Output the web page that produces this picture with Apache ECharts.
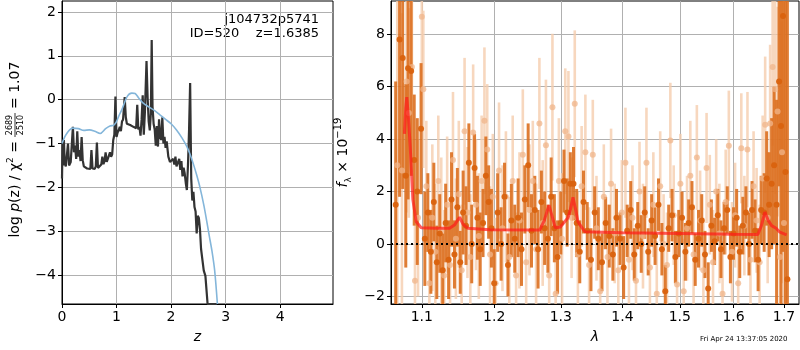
<!DOCTYPE html>
<html>
<head>
<meta charset="utf-8">
<script src="https://cdn.jsdelivr.net/npm/echarts@6/dist/echarts.min.js"></script>
<style>
  html, body { margin: 0; padding: 0; background: #fff; }
  #chart { width: 800px; height: 350px; }
</style>
</head>
<body>
<div id="chart"></div>
<script>
// p(z) panel: [z, log p(z)]
const pzLine = [
  [0.00, -1.80], [0.01, -1.00], [0.02, -1.50], [0.035, -0.92], [0.05, -1.45], [0.07, -1.52], [0.09, -1.48],
  [0.11, -1.00], [0.13, -1.50], [0.16, -1.42], [0.18, -1.40], [0.20, -0.62], [0.22, -1.20], [0.24, -1.05],
  [0.26, -1.35], [0.28, -0.72], [0.30, -1.30], [0.32, -1.15], [0.34, -1.40], [0.36, -0.85], [0.38, -1.38],
  [0.40, -1.52], [0.43, -1.55], [0.46, -1.57], [0.49, -1.55], [0.52, -1.58], [0.54, -1.15], [0.56, -1.57],
  [0.58, -1.55], [0.60, -1.58], [0.62, -1.52], [0.64, -0.98], [0.66, -1.56], [0.69, -1.52], [0.72, -1.48],
  [0.74, -1.30], [0.76, -1.47], [0.78, -1.40], [0.80, -1.20], [0.82, -1.42], [0.84, -1.35], [0.86, -1.38],
  [0.88, -1.20], [0.90, -1.30], [0.92, -1.25], [0.94, -0.92], [0.96, -0.80], [0.98, 0.07], [1.00, -0.85],
  [1.02, -0.75], [1.04, -0.70], [1.06, -0.62], [1.08, -0.72], [1.10, -0.50], [1.12, -0.45], [1.15, 0.06],
  [1.17, -0.40], [1.19, -0.55], [1.22, -0.52], [1.25, -0.58], [1.28, -0.55], [1.31, -0.62], [1.34, -0.58],
  [1.36, -0.65], [1.38, -0.12], [1.40, -0.68], [1.42, -0.62], [1.44, -0.82], [1.46, -0.45], [1.48, 0.10],
  [1.50, -0.80], [1.52, -0.30], [1.55, 0.88], [1.57, 0.05], [1.59, -0.50], [1.61, -0.70], [1.63, -0.30],
  [1.645, 1.36], [1.66, -0.15], [1.68, -0.55], [1.70, -0.68], [1.72, -1.05], [1.74, -0.60], [1.76, -1.07],
  [1.78, -0.45], [1.80, -0.85], [1.82, -0.92], [1.84, -0.40], [1.86, -1.00], [1.88, -0.85], [1.90, -1.10],
  [1.92, -0.95], [1.95, -1.30], [1.98, -1.42], [2.01, -1.45], [2.04, -1.35], [2.06, -1.48], [2.08, -1.30],
  [2.10, -1.52], [2.13, -1.55], [2.15, -1.35], [2.17, -1.60], [2.19, -1.40], [2.21, -1.75], [2.23, -1.55],
  [2.25, -1.68], [2.27, -1.90], [2.29, -2.06], [2.31, -1.50], [2.33, -0.70], [2.35, 0.38], [2.37, -1.80],
  [2.39, -2.30], [2.41, -2.10], [2.43, -2.45], [2.45, -2.55], [2.47, -3.05], [2.49, -2.65], [2.51, -2.70],
  [2.53, -2.95], [2.55, -3.40], [2.57, -3.60], [2.60, -3.90], [2.63, -4.02], [2.67, -4.66], [2.84, -4.66]
];
const pzTemplate = [
  [0.00, -1.00], [0.05, -0.85], [0.10, -0.75], [0.15, -0.68], [0.20, -0.65], [0.30, -0.66], [0.40, -0.70],
  [0.50, -0.69], [0.60, -0.72], [0.70, -0.77], [0.80, -0.66], [0.88, -0.60], [0.95, -0.58], [1.00, -0.50],
  [1.05, -0.35], [1.10, -0.22], [1.20, 0.08], [1.28, 0.15], [1.34, 0.14], [1.40, 0.05], [1.49, -0.08],
  [1.60, -0.17], [1.70, -0.25], [1.80, -0.35], [1.90, -0.45], [2.00, -0.55], [2.10, -0.69], [2.20, -0.87],
  [2.29, -1.07], [2.35, -1.25], [2.41, -1.47], [2.47, -1.72], [2.53, -2.00], [2.60, -2.40], [2.65, -2.74],
  [2.70, -3.10], [2.75, -3.45], [2.80, -3.90], [2.85, -4.66]
];
const zTicks = [0, 1, 2, 3, 4];
const pzTicks = [-4, -3, -2, -1, 0, 1, 2];

// spectrum panel: [lambda, flux, err]
const specDark = [
  [1.066, 1.5, 4.7], [1.071, 7.8, 6], [1.075, 7.1, 5], [1.079, 2.6, 3.5], [1.082, 6.7, 5], [1.086, 6.6, 4],
  [1.090, 3.2, 2.5], [1.094, 2.0, 2.8], [1.099, 4.4, 2.5], [1.104, 0.2, 1.8], [1.108, 1.2, 1.5], [1.112, -0.3, 1.6],
  [1.116, 1.6, 1.5], [1.120, -0.7, 1.4], [1.124, 0.4, 1.5], [1.128, -1.0, 1.4], [1.132, 0.8, 1.5], [1.136, -0.6, 1.5],
  [1.140, 1.7, 1.8], [1.144, -0.4, 1.3], [1.148, 1.4, 1.5], [1.152, -0.7, 1.2], [1.156, 1.2, 1.6], [1.160, 0.7, 1.5],
  [1.164, 3.1, 1.5], [1.168, 0.0, 1.5], [1.172, 2.9, 1.3], [1.176, 1.0, 1.6], [1.180, -0.2, 1.4], [1.184, 0.8, 1.3],
  [1.188, 2.6, 1.5], [1.192, 1.6, 1.4], [1.196, 0.6, 1.5], [1.200, -1.5, 1.3], [1.205, 1.2, 1.5], [1.210, 0.0, 1.4],
  [1.215, 1.8, 1.3], [1.220, -0.8, 1.2], [1.225, 0.9, 1.4], [1.230, 0.2, 1.3], [1.235, 1.0, 1.5], [1.240, -0.2, 1.4],
  [1.245, 1.7, 1.3], [1.250, 3.0, 1.6], [1.255, 0.5, 1.4], [1.260, 1.3, 1.3], [1.265, -0.2, 1.5], [1.270, 1.6, 1.2],
  [1.275, 0.6, 1.4], [1.280, 0.2, 1.3], [1.285, 1.8, 1.5], [1.290, 0.6, 1.3], [1.295, -0.5, 1.4], [1.300, 0.8, 1.2],
  [1.305, 2.4, 1.2], [1.310, 1.2, 1.3], [1.315, 2.3, 1.2], [1.320, 2.3, 1.4], [1.325, 0.8, 1.3], [1.330, -0.3, 1.2],
  [1.336, 1.6, 1.2], [1.342, 0.5, 1.1], [1.348, -0.6, 1.2], [1.354, 1.2, 1.0], [1.360, 0.2, 1.2], [1.366, -0.7, 1.1],
  [1.372, 0.8, 1.0], [1.378, 0.3, 1.2], [1.384, -0.4, 1.0], [1.390, 1.0, 1.1], [1.396, 0.2, 1.0], [1.402, -0.9, 1.2],
  [1.408, 0.5, 1.0], [1.414, 1.3, 1.1], [1.420, -0.4, 1.0], [1.426, 0.7, 0.9], [1.432, 0.0, 1.1], [1.438, 1.2, 1.0],
  [1.444, -0.3, 0.9], [1.450, 0.9, 1.0], [1.456, 0.3, 1.1], [1.462, 1.5, 1.0], [1.468, -0.2, 1.0], [1.474, -1.8, 1.0],
  [1.480, 0.6, 0.9], [1.486, 1.1, 1.0], [1.492, -0.5, 1.0], [1.498, 0.4, 0.9], [1.504, 1.0, 1.0], [1.510, -0.3, 1.1],
  [1.516, 0.8, 0.9], [1.522, 1.4, 1.0], [1.528, -0.6, 1.0], [1.534, 0.2, 1.1], [1.540, 0.9, 1.0], [1.546, -0.4, 0.9],
  [1.552, -1.7, 1.0], [1.558, 0.7, 1.0], [1.564, 0.1, 0.9], [1.570, 1.1, 1.0], [1.576, -0.2, 1.1], [1.582, 0.6, 1.0],
  [1.588, 1.3, 0.9], [1.594, -0.5, 1.0], [1.600, 0.4, 1.0], [1.606, 1.0, 1.1], [1.612, -0.3, 1.0], [1.618, 0.7, 1.1],
  [1.624, 1.2, 1.0], [1.630, 0.0, 1.2], [1.636, 1.3, 1.1], [1.642, 0.5, 1.2], [1.648, -0.6, 1.2], [1.654, 1.3, 1.3],
  [1.660, 1.2, 1.5], [1.665, 2.5, 1.8], [1.670, 1.5, 2.0], [1.675, 2.3, 2.5], [1.680, 3.0, 3.0], [1.685, 1.5, 4.0],
  [1.690, 6.2, 4.0], [1.694, 4.5, 8], [1.698, 8.7, 9], [1.703, 2.75, 9], [1.707, -1.35, 12]
];
const specLight = [
  [1.068, 3.0, 8], [1.074, 2.8, 6], [1.080, 6.2, 5], [1.083, 5.0, 4], [1.087, 6.75, 4], [1.091, -1.4, 3.5],
  [1.095, 1.0, 3], [1.100, 8.67, 3], [1.102, 5.9, 3], [1.106, 2.2, 2.5], [1.110, -1.5, 2.5], [1.114, 1.0, 2.8],
  [1.118, -0.3, 2.6], [1.122, 2.4, 2.5], [1.126, 0.5, 2.8], [1.130, -1.2, 2.5], [1.134, 1.5, 2.6], [1.138, -0.8, 2.4],
  [1.142, 3.2, 2.6], [1.146, 0.2, 2.3], [1.150, 1.9, 2.8], [1.154, -1.0, 2.5], [1.158, 4.3, 2.8], [1.162, 1.2, 2.5],
  [1.166, -0.5, 2.4], [1.170, 4.25, 2.6], [1.174, 1.5, 2.5], [1.178, 0.3, 2.4], [1.182, 2.4, 2.5], [1.186, 4.7, 2.8],
  [1.190, 3.6, 2.5], [1.194, -0.4, 2.6], [1.198, 1.8, 2.4], [1.202, -1.5, 2.5], [1.207, 2.8, 2.6], [1.212, 0.6, 2.4],
  [1.217, 1.8, 2.5], [1.222, -0.5, 2.3], [1.227, 2.4, 2.5], [1.232, -1.2, 2.4], [1.237, 0.9, 2.6], [1.242, 3.4, 2.5],
  [1.247, -0.7, 2.4], [1.252, 1.3, 2.5], [1.257, 2.4, 2.3], [1.262, -0.2, 2.5], [1.267, 4.6, 2.5], [1.272, 0.8, 2.4],
  [1.277, 3.77, 2.5], [1.282, -1.2, 2.6], [1.287, 5.22, 2.8], [1.292, -1.9, 2.5], [1.297, 2.4, 2.4], [1.302, 0.2, 2.5],
  [1.307, 4.3, 2.4], [1.312, 4.1, 2.5], [1.317, 1.0, 2.3], [1.322, 5.35, 2.8], [1.327, -0.4, 2.4], [1.333, 2.2, 2.3],
  [1.339, 3.5, 2.2], [1.345, -0.8, 2.2], [1.351, 3.4, 2.1], [1.357, 0.6, 2.0], [1.363, -1.8, 2.1], [1.369, 1.8, 2.0],
  [1.375, -0.5, 2.0], [1.381, 2.3, 2.1], [1.387, 0.4, 1.9], [1.393, -1.0, 2.0], [1.399, 1.2, 2.0], [1.405, 3.1, 2.1],
  [1.411, -0.6, 1.9], [1.417, 1.0, 2.0], [1.423, -1.4, 2.1], [1.429, 2.0, 1.9], [1.435, 0.3, 2.0], [1.441, 3.1, 2.1],
  [1.447, -0.9, 1.9], [1.453, 1.5, 2.0], [1.459, -1.9, 2.0], [1.465, 2.2, 2.1], [1.471, 0.0, 1.9], [1.477, -0.8, 2.0],
  [1.483, 3.95, 2.2], [1.489, 1.1, 1.9], [1.495, -1.55, 2.0], [1.501, 2.3, 1.9], [1.507, -1.8, 2.0], [1.513, 0.6, 2.0],
  [1.519, 2.6, 2.1], [1.525, -0.4, 1.9], [1.531, 3.3, 2.0], [1.537, 0.9, 1.9], [1.543, -1.0, 2.0], [1.549, 2.9, 2.1],
  [1.555, 1.5, 1.9], [1.561, -0.7, 2.0], [1.567, 2.0, 2.0], [1.573, 0.4, 1.9], [1.579, -1.9, 2.0], [1.585, 1.6, 2.0],
  [1.591, 3.75, 2.1], [1.597, -0.3, 1.9], [1.603, 1.1, 2.0], [1.609, -1.5, 2.0], [1.615, 3.65, 2.1], [1.621, 0.7, 1.9],
  [1.627, 3.6, 2.2], [1.633, -0.6, 2.0], [1.639, 2.2, 2.1], [1.645, 0.9, 2.0], [1.651, -0.7, 2.2], [1.657, 2.5, 2.4],
  [1.662, 4.55, 2.6], [1.667, 1.0, 2.5], [1.672, 4.6, 3], [1.677, 6.75, 3], [1.682, 5.9, 4], [1.687, 5.05, 4],
  [1.692, -0.5, 4], [1.696, 3.5, 5], [1.700, 0.8, 9]
];
const specModel = [
  [1.0773, 4.2], [1.0790, 5.2], [1.0803, 5.6], [1.0825, 4.8], [1.0848, 3.7], [1.0882, 1.7], [1.0926, 0.85],
  [1.0992, 0.62], [1.12, 0.6], [1.1373, 0.6], [1.1440, 0.72], [1.1511, 1.02], [1.1560, 0.75], [1.1626, 0.6],
  [1.1934, 0.54], [1.2674, 0.53], [1.2745, 0.9], [1.2816, 1.48], [1.2860, 1.1], [1.2915, 0.62], [1.2993, 0.65],
  [1.3060, 0.85], [1.3113, 1.0], [1.3150, 1.3], [1.3192, 1.78], [1.3235, 1.3], [1.3272, 0.84], [1.3379, 0.47],
  [1.40, 0.43], [1.50, 0.40], [1.60, 0.37], [1.6475, 0.36], [1.6545, 0.7], [1.6614, 1.22], [1.6680, 0.9],
  [1.6749, 0.7], [1.6776, 0.74], [1.6840, 0.6], [1.6917, 0.45], [1.7054, 0.35]
];
const lamTicks = [1.1, 1.2, 1.3, 1.4, 1.5, 1.6, 1.7];
const fluxTicks = [-2, 0, 2, 4, 6, 8];

const FONT = 'DejaVu Sans';
const fluxMin = -2.29, fluxMax = 9.27;
const minus = v => String(v).replace('-', '\u2212');

// error bars drawn through the axes' coordinate system
function errorBars(color, opacity, width) {
  return function (params, api) {
    const lam = api.value(0);
    const lo = Math.max(api.value(1), fluxMin);
    const hi = Math.min(api.value(2), fluxMax);
    const p1 = api.coord([lam, lo]);
    const p2 = api.coord([lam, hi]);
    return {
      type: 'line',
      shape: { x1: p1[0], y1: p1[1], x2: p2[0], y2: p2[1] },
      style: { stroke: color, lineWidth: width, opacity: opacity }
    };
  };
}
const toBars = arr => arr.map(d => [d[0], d[1] - d[2], d[1] + d[2]]);
const toPts = arr => arr.map(d => [d[0], d[1]]);

const axisCommon = {
  axisLine: { show: true, onZero: false, lineStyle: { color: '#000', width: 1 } },
  axisTick: { show: true, inside: false, length: 4, lineStyle: { color: '#000' } },
  splitLine: { show: true, lineStyle: { color: '#b0b0b0', width: 1 } },
  nameTextStyle: { fontFamily: FONT, fontSize: 14, color: '#000' }
};
function valueAxis(extra, ticks, fmt) {
  return Object.assign({}, axisCommon, {
    axisTick: Object.assign({}, axisCommon.axisTick, { customValues: ticks }),
    axisLabel: { customValues: ticks, formatter: fmt, fontFamily: FONT, fontSize: 14, color: '#000', margin: 6 }
  }, extra);
}

const chart = echarts.init(document.getElementById('chart'));
chart.setOption({
  animation: false,
  backgroundColor: '#fff',
  grid: [
    { left: 62, top: 1, width: 271, height: 303, show: true, borderColor: '#000', borderWidth: 1, backgroundColor: 'transparent' },
    { left: 391, top: 1, width: 408, height: 303, show: true, borderColor: '#000', borderWidth: 1, backgroundColor: 'transparent' }
  ],
  xAxis: [
    valueAxis({ type: 'value', gridIndex: 0, min: 0, max: 4.97, name: 'z', nameLocation: 'middle', nameGap: 26,
      nameTextStyle: { fontFamily: FONT, fontSize: 14, fontStyle: 'italic', color: '#000' } }, zTicks, v => String(v)),
    valueAxis({ type: 'log', gridIndex: 1, min: 1.06, max: 1.731, name: 'λ', nameLocation: 'middle', nameGap: 26,
      nameTextStyle: { fontFamily: FONT, fontSize: 14, fontStyle: 'italic', color: '#000' } }, lamTicks, v => Number(v).toFixed(1))
  ],
  yAxis: [
    valueAxis({ type: 'value', gridIndex: 0, min: -4.66, max: 2.25 }, pzTicks, v => minus(v)),
    valueAxis({ type: 'value', gridIndex: 1, min: fluxMin, max: fluxMax, name: '{i|f}{sub|λ}{n| × 10}{sup|−19}',
      nameLocation: 'middle', nameGap: 37,
      nameTextStyle: {
        fontFamily: FONT, fontSize: 14, color: '#000',
        rich: {
          i: { fontFamily: FONT, fontSize: 14, fontStyle: 'italic', color: '#000' },
          n: { fontFamily: FONT, fontSize: 14, color: '#000' },
          sub: { fontFamily: FONT, fontSize: 9, color: '#000', verticalAlign: 'bottom', lineHeight: 20 },
          sup: { fontFamily: FONT, fontSize: 10, color: '#000', verticalAlign: 'top', lineHeight: 20 }
        }
      } }, fluxTicks, v => minus(v))
  ],
  series: [
    { type: 'line', xAxisIndex: 0, yAxisIndex: 0, data: pzLine, showSymbol: false, clip: true,
      lineStyle: { color: '#333333', width: 2.2 } },
    { type: 'line', xAxisIndex: 0, yAxisIndex: 0, data: pzTemplate, showSymbol: false, smooth: 0.3, clip: true,
      lineStyle: { color: '#84b6da', width: 1.6 } },
    { type: 'custom', xAxisIndex: 1, yAxisIndex: 1, data: toBars(specLight), clip: true,
      renderItem: errorBars('#f5cdae', 0.8, 2.6) },
    { type: 'scatter', xAxisIndex: 1, yAxisIndex: 1, data: toPts(specLight), symbolSize: 6, clip: true,
      itemStyle: { color: '#f0b68b', opacity: 0.75 } },
    { type: 'custom', xAxisIndex: 1, yAxisIndex: 1, data: toBars(specDark), clip: true,
      renderItem: errorBars('#dc6f1f', 0.9, 3) },
    { type: 'scatter', xAxisIndex: 1, yAxisIndex: 1, data: toPts(specDark), symbolSize: 6, clip: true,
      itemStyle: { color: '#d9620e', opacity: 0.95 } },
    { type: 'line', xAxisIndex: 1, yAxisIndex: 1, data: specModel, showSymbol: false, clip: true,
      lineStyle: { color: '#ff1a1a', width: 3, opacity: 0.7 },
      markLine: { silent: true, symbol: 'none', label: { show: false },
        lineStyle: { color: '#000', type: [2, 3], width: 2, opacity: 1 },
        data: [{ yAxis: 0 }] } }
  ],
  graphic: [
    { type: 'text', right: 800 - 319, top: 13, style: { text: 'j104732p5741', font: '13px DejaVu Sans', fill: '#000', align: 'right' } },
    { type: 'text', right: 800 - 319, top: 27, style: { text: 'ID=520    z=1.6385', font: '13px DejaVu Sans', fill: '#000', align: 'right' } },
    { type: 'text', left: 700, top: 336, style: { text: 'Fri Apr 24 13:37:05 2020', font: '7px DejaVu Sans', fill: '#000' } },
    {
      type: 'group', x: 15, y: 152, rotation: Math.PI / 2,
      children: [
        { type: 'text', x: 11, y: 0, style: {
            text: '{n|log }{i|p}{n|(z) / χ}{s|2}{n| =}', align: 'right', verticalAlign: 'middle',
            rich: {
              n: { font: '14px DejaVu Sans', fill: '#000' },
              i: { font: 'italic 14px DejaVu Sans', fill: '#000' },
              s: { font: '9px DejaVu Sans', fill: '#000', verticalAlign: 'top', lineHeight: 18 }
            } } },
        { type: 'text', x: 27, y: -5, style: { text: '2689', font: '8px DejaVu Sans', fill: '#000', align: 'center', verticalAlign: 'middle' } },
        { type: 'line', shape: { x1: 15, y1: 0, x2: 39, y2: 0 }, style: { stroke: '#000', lineWidth: 0.8 } },
        { type: 'text', x: 27, y: 6, style: { text: '2510', font: '8px DejaVu Sans', fill: '#000', align: 'center', verticalAlign: 'middle' } },
        { type: 'text', x: 43, y: 0, style: { text: '= 1.07', font: '14px DejaVu Sans', fill: '#000', align: 'left', verticalAlign: 'middle' } }
      ]
    }
  ]
});
</script>
</body>
</html>
